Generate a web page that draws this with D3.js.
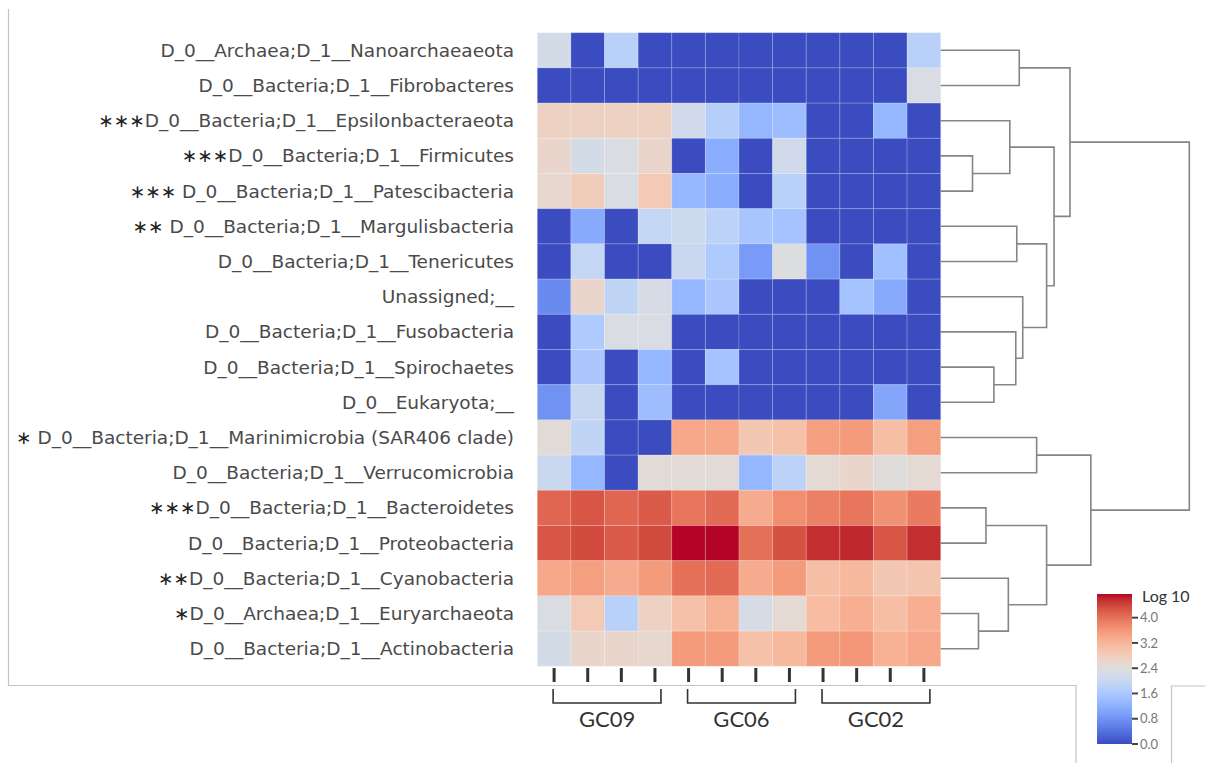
<!DOCTYPE html>
<html>
<head>
<meta charset="utf-8">
<script src="https://cdn.jsdelivr.net/npm/d3@7"></script>
<style>
  body { margin: 0; background: #fff; }
  svg { display: block; }
</style>
</head>
<body>
<div id="visualization"></div>
<script>
// Row order as clustered (top to bottom)
var taxa = [
  "D_0__Archaea;D_1__Nanoarchaeaeota",
  "D_0__Bacteria;D_1__Fibrobacteres",
  "D_0__Bacteria;D_1__Epsilonbacteraeota",
  "D_0__Bacteria;D_1__Firmicutes",
  " D_0__Bacteria;D_1__Patescibacteria",
  " D_0__Bacteria;D_1__Margulisbacteria",
  "D_0__Bacteria;D_1__Tenericutes",
  "Unassigned;__",
  "D_0__Bacteria;D_1__Fusobacteria",
  "D_0__Bacteria;D_1__Spirochaetes",
  "D_0__Eukaryota;__",
  " D_0__Bacteria;D_1__Marinimicrobia (SAR406 clade)",
  "D_0__Bacteria;D_1__Verrucomicrobia",
  "D_0__Bacteria;D_1__Bacteroidetes",
  "D_0__Bacteria;D_1__Proteobacteria",
  "D_0__Bacteria;D_1__Cyanobacteria",
  "D_0__Archaea;D_1__Euryarchaeota",
  "D_0__Bacteria;D_1__Actinobacteria"
];
// significance marks put in front of the labels
var stars = ["", "", "***", "***", "***", "**", "", "", "", "", "", "*", "", "***", "", "**", "*", ""];

var samples = ["GC09_1", "GC09_2", "GC09_3", "GC09_4",
               "GC06_1", "GC06_2", "GC06_3", "GC06_4",
               "GC02_1", "GC02_2", "GC02_3", "GC02_4"];
var groupNames = ["GC09", "GC06", "GC02"];
var groupFirst = [0, 4, 8];
var groupLast = [3, 7, 11];

// log10 abundance, one row per taxon
var abundance = [
  [2.20, 0.00, 1.80, 0.00, 0.00, 0.00, 0.00, 0.00, 0.00, 0.00, 0.00, 1.80],
  [0.00, 0.00, 0.00, 0.00, 0.00, 0.00, 0.00, 0.00, 0.00, 0.00, 0.00, 2.30],
  [2.70, 2.70, 2.70, 2.70, 2.15, 1.75, 1.30, 1.40, 0.00, 0.00, 1.30, 0.00],
  [2.60, 2.20, 2.30, 2.60, 0.00, 1.15, 0.00, 2.15, 0.00, 0.00, 0.00, 0.00],
  [2.55, 2.80, 2.30, 2.85, 1.30, 1.15, 0.00, 1.80, 0.00, 0.00, 0.00, 0.00],
  [0.00, 1.10, 0.00, 1.95, 2.10, 1.85, 1.55, 1.50, 0.00, 0.00, 0.00, 0.00],
  [0.00, 1.95, 0.00, 0.00, 2.05, 1.65, 0.90, 2.35, 0.80, 0.00, 1.45, 0.00],
  [0.70, 2.60, 1.90, 2.25, 1.30, 1.60, 0.00, 0.00, 0.00, 1.50, 1.10, 0.00],
  [0.00, 1.65, 2.30, 2.30, 0.00, 0.00, 0.00, 0.00, 0.00, 0.00, 0.00, 0.00],
  [0.00, 1.60, 0.00, 1.30, 0.00, 1.50, 0.00, 0.00, 0.00, 0.00, 0.00, 0.00],
  [0.80, 2.00, 0.00, 1.40, 0.00, 0.00, 0.00, 0.00, 0.00, 0.00, 1.05, 0.00],
  [2.45, 1.90, 0.00, 0.00, 3.40, 3.40, 2.90, 3.00, 3.50, 3.55, 3.05, 3.50],
  [2.05, 1.30, 0.00, 2.45, 2.45, 2.45, 1.30, 1.85, 2.50, 2.60, 2.40, 2.50],
  [4.10, 4.25, 4.10, 4.20, 3.95, 4.05, 3.35, 3.70, 3.85, 3.95, 3.65, 3.90],
  [4.25, 4.35, 4.20, 4.35, 4.75, 4.75, 4.00, 4.30, 4.55, 4.60, 4.25, 4.55],
  [3.40, 3.50, 3.35, 3.55, 4.00, 4.05, 3.35, 3.55, 3.05, 3.15, 2.90, 2.95],
  [2.30, 2.85, 1.80, 2.70, 3.00, 3.25, 2.25, 2.50, 3.10, 3.30, 3.05, 3.30],
  [2.20, 2.60, 2.60, 2.55, 3.55, 3.55, 3.00, 3.15, 3.55, 3.60, 3.25, 3.40]
];

// linkage of the rows: [child a, child b, height]; leaves are 0-17, new nodes get 18, 19, ...
var merges = [
  [3, 4, 0.64], [16, 17, 0.76], [13, 14, 0.91], [9, 10, 1.07],
  [15, 19, 1.36], [2, 18, 1.39], [8, 21, 1.51], [5, 6, 1.53],
  [0, 1, 1.58], [7, 24, 1.65], [11, 12, 1.93], [25, 27, 2.13],
  [20, 22, 2.13], [23, 29, 2.28], [26, 31, 2.60], [28, 30, 3.02],
  [32, 33, 5.00]
];

var legendTicks = [0.0, 0.8, 1.6, 2.4, 3.2, 4.0];
var vmin = 0, vmax = 4.75;

// matplotlib "coolwarm"
var coolwarm = ["#3b4cc0", "#445acc", "#4d68d7", "#5775e1", "#6282ea", "#6c8ef1", "#779af7", "#82a5fb",
  "#8db0fe", "#98b9ff", "#a3c2ff", "#aec9fd", "#b8d0f9", "#c2d5f4", "#ccd9ee", "#d5dbe6",
  "#dddddd", "#e5d8d1", "#ecd3c5", "#f1ccb8", "#f5c4ac", "#f7bba0", "#f7b194", "#f7a689",
  "#f49a7b", "#f18d6f", "#ec7f63", "#e57058", "#de604d", "#d55042", "#cb3e38", "#c0282f", "#b40426"];

var width = 1205, height = 763;
var svg = d3.select("#visualization").append("svg")
  .attr("width", width).attr("height", height);

var color = d3.scaleLinear()
  .domain(coolwarm.map(function (c, i) { return vmin + (vmax - vmin) * i / (coolwarm.length - 1); }))
  .range(coolwarm)
  .interpolate(d3.interpolateRgb)
  .clamp(true);

var x = d3.scaleBand().domain(samples).range([537.3, 940.7]);
var y = d3.scaleBand().domain(d3.range(taxa.length)).range([32.7, 666.3]);

// frame of the pasted figure
var frame = svg.append("g").attr("stroke", "#c4c4c4").attr("stroke-width", 1.2).attr("fill", "none");
frame.append("path").attr("d", "M8.5,9V685.5H1076V763");
frame.append("path").attr("d", "M1205,686H1171.5V763");

// heatmap cells
var rows = svg.append("g").selectAll("g")
  .data(abundance)
  .enter().append("g");
rows.selectAll("rect")
  .data(function (d, i) { return d.map(function (v, j) { return { row: i, col: j, v: v }; }); })
  .enter().append("rect")
    .attr("x", function (d) { return x(samples[d.col]); })
    .attr("y", function (d) { return y(d.row); })
    .attr("width", x.bandwidth())
    .attr("height", y.bandwidth())
    .attr("fill", function (d) { return color(d.v); })
    .attr("stroke", "rgba(255,255,255,0.18)")
    .attr("stroke-width", 1);

// row labels
var labels = svg.append("g")
  .attr("font-family", "DejaVu Sans, sans-serif")
  .attr("font-size", 18.5)
  .attr("text-anchor", "end");
var lab = labels.selectAll("text")
  .data(taxa)
  .enter().append("text")
    .attr("x", 514)
    .attr("y", function (d, i) { return y(i) + y.bandwidth() / 2; })
    .attr("dy", "0.35em");
lab.append("tspan")
  .attr("fill", "#222")
  .text(function (d, i) { return stars[i].replace(/\*/g, "\u2217"); });
lab.append("tspan")
  .attr("fill", "#4a4a4a")
  .text(function (d) { return d; });

// sample ticks under the heatmap
svg.append("g").selectAll("line")
  .data(samples)
  .enter().append("line")
    .attr("x1", function (d) { return x(d) + x.bandwidth() / 2; })
    .attr("x2", function (d) { return x(d) + x.bandwidth() / 2; })
    .attr("y1", 668).attr("y2", 682)
    .attr("stroke", "#333").attr("stroke-width", 3);

// group brackets
var br = svg.append("g");
groupNames.forEach(function (g, i) {
  var x0 = x(samples[groupFirst[i]]) + x.bandwidth() / 2 - 1;
  var x1 = x(samples[groupLast[i]]) + x.bandwidth() / 2 + 6;
  br.append("path")
    .attr("d", "M" + x0 + ",689V703H" + x1 + "V689")
    .attr("fill", "none").attr("stroke", "#333").attr("stroke-width", 1.6);
  br.append("text")
    .attr("x", (x0 + x1) / 2).attr("y", 727)
    .attr("text-anchor", "middle")
    .attr("font-family", "Lato, sans-serif").attr("font-size", 22)
    .attr("fill", "#333")
    .text(g);
});

// dendrogram on the right
var dx = d3.scaleLinear().domain([0, 5]).range([940.7, 1189.3]);
var nodes = taxa.map(function (d, i) { return { y: y(i) + y.bandwidth() / 2, h: 0 }; });
var dend = svg.append("g").attr("fill", "none").attr("stroke", "#858585").attr("stroke-width", 1.6);
merges.forEach(function (m) {
  var a = nodes[m[0]], b = nodes[m[1]];
  dend.append("path")
    .attr("d", "M" + dx(a.h) + "," + a.y + "H" + dx(m[2]) + "V" + b.y + "H" + dx(b.h));
  nodes.push({ y: (a.y + b.y) / 2, h: m[2] });
});

// colour bar
var cb = d3.scaleLinear().domain([vmin, vmax]).range([744, 594]);
var grad = svg.append("defs").append("linearGradient")
  .attr("id", "cbar").attr("x1", 0).attr("y1", 1).attr("x2", 0).attr("y2", 0);
grad.selectAll("stop")
  .data(coolwarm)
  .enter().append("stop")
    .attr("offset", function (d, i) { return i / (coolwarm.length - 1); })
    .attr("stop-color", function (d) { return d; });
svg.append("rect")
  .attr("x", 1097).attr("y", cb(vmax))
  .attr("width", 35).attr("height", cb(vmin) - cb(vmax))
  .attr("fill", "url(#cbar)");
var cbt = svg.append("g").selectAll("g")
  .data(legendTicks)
  .enter().append("g")
    .attr("transform", function (d) { return "translate(0," + cb(d) + ")"; });
cbt.append("line")
  .attr("x1", 1132).attr("x2", 1138)
  .attr("stroke", "#444").attr("stroke-width", 2);
cbt.append("text")
  .attr("x", 1140).attr("dy", "0.35em")
  .attr("font-family", "Lato, sans-serif").attr("font-size", 13)
  .attr("fill", "#777")
  .text(function (d) { return d.toFixed(1); });
svg.append("text")
  .attr("x", 1142).attr("y", 602)
  .attr("font-family", "Lato, sans-serif").attr("font-size", 16)
  .attr("fill", "#333")
  .text("Log 10");
</script>
</body>
</html>
